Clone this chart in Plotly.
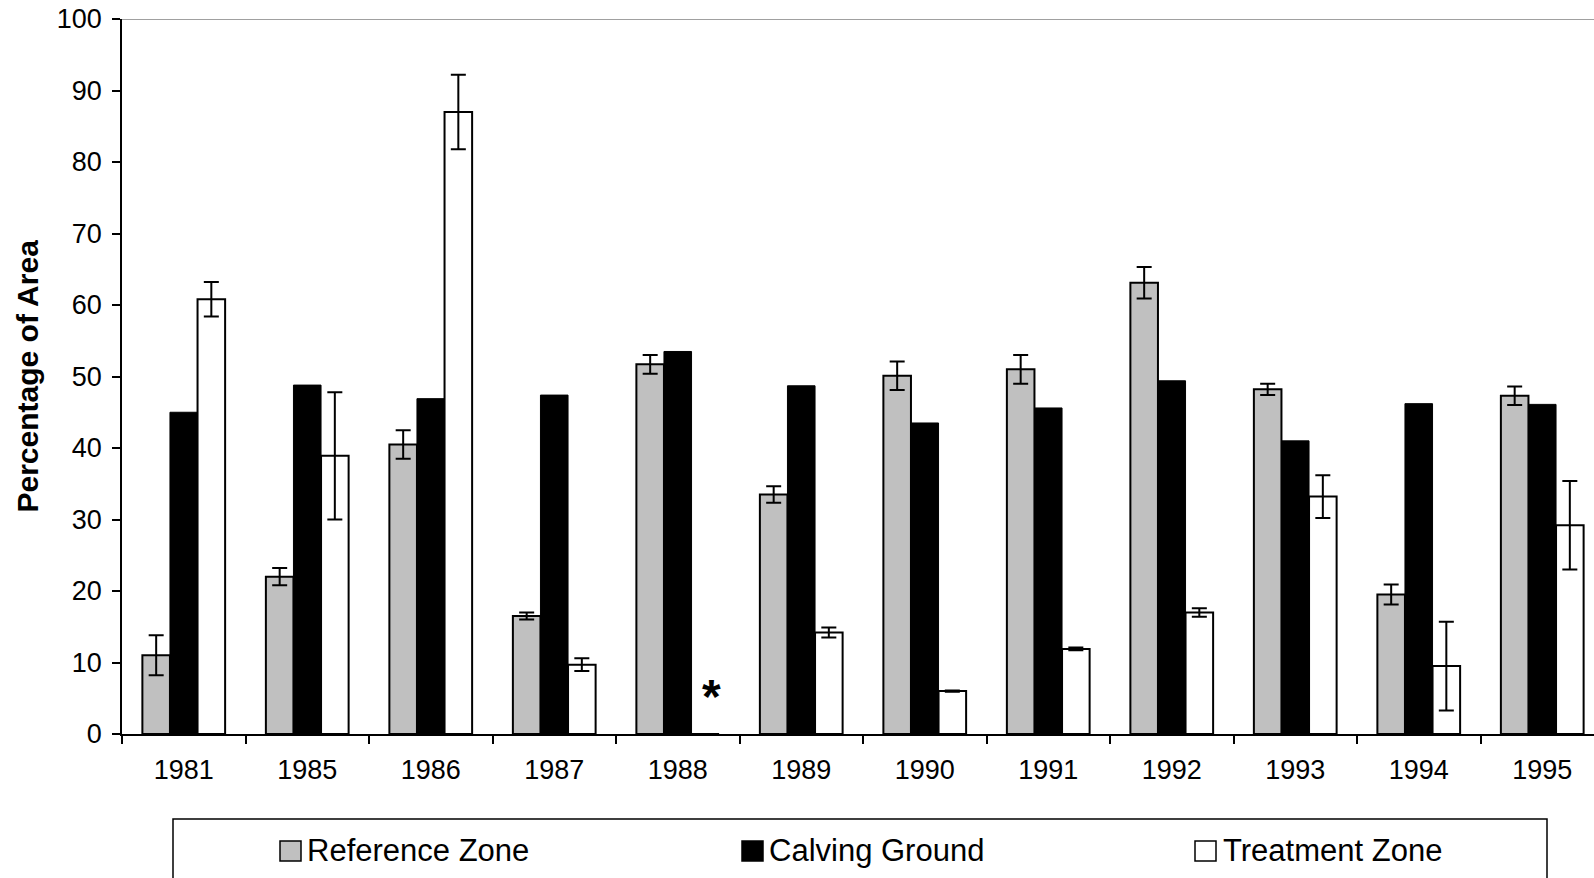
import plotly.graph_objects as go

# Survey years and mean percentage of area per zone
years = ["1981", "1985", "1986", "1987", "1988", "1989",
         "1990", "1991", "1992", "1993", "1994", "1995"]

reference_zone = [11.0, 22.0, 40.5, 16.5, 51.7, 33.5, 50.1, 51.0, 63.1, 48.2, 19.5, 47.3]
reference_err = [2.8, 1.2, 2.0, 0.5, 1.3, 1.15, 2.0, 2.0, 2.2, 0.8, 1.4, 1.3]

calving_ground = [45.0, 48.8, 46.9, 47.4, 53.5, 48.7, 43.5, 45.6, 49.4, 41.0, 46.2, 46.1]

treatment_zone = [60.8, 38.9, 87.0, 9.7, 0.0, 14.2, 6.0, 11.9, 17.0, 33.2, 9.5, 29.2]
treatment_err = [2.4, 8.9, 5.2, 0.9, 0.0, 0.7, 0.1, 0.2, 0.6, 3.0, 6.2, 6.2]

no_data_year = "1988"

series_names = ["Reference Zone", "Calving Ground", "Treatment Zone"]
series_colors = ["#C0C0C0", "#000000", "#FFFFFF"]

FONT = "Liberation Sans, Arial, sans-serif"
W, H = 1594, 878
ML, MR, MT, MB = 122, 0, 19, 144
PW, PH = W - ML - MR, H - MT - MB


def paper_x(px):
    return (px - ML) / PW


def paper_y(py):
    return (H - MB - py) / PH


err_style = dict(type="data", visible=True, color="black", thickness=2, width=7.5)

fig = go.Figure()
fig.add_trace(go.Bar(
    x=years, y=reference_zone, name=series_names[0],
    marker=dict(color=series_colors[0], line=dict(color="black", width=2)),
    error_y=dict(array=reference_err, **err_style),
))
fig.add_trace(go.Bar(
    x=years, y=calving_ground, name=series_names[1],
    marker=dict(color=series_colors[1], line=dict(color="black", width=1)),
))
fig.add_trace(go.Bar(
    x=years, y=treatment_zone, name=series_names[2],
    marker=dict(color=series_colors[2], line=dict(color="black", width=2)),
    error_y=dict(array=treatment_err, **err_style),
))

# Marker for the year with no treatment-zone data
idx = years.index(no_data_year)
fig.add_annotation(
    x=idx, y=treatment_zone[idx], xref="x", yref="y",
    text="<b>*</b>", showarrow=False, xanchor="center", yanchor="middle",
    xshift=34, yshift=38,
    font=dict(family=FONT, size=48, color="black"),
)

# Axis title
fig.add_annotation(
    x=paper_x(27), y=0.5, xref="paper", yref="paper",
    xanchor="center", yanchor="middle",
    text="<b>Percentage of Area</b>", textangle=-90, showarrow=False,
    font=dict(family=FONT, size=30, color="black"),
)

# Top border of the plot area
fig.add_shape(type="line", xref="paper", yref="y", x0=0, x1=1, y0=100, y1=100,
              line=dict(color="#808080", width=1.5))

# Legend box with swatches
shapes = [dict(type="rect", xref="paper", yref="paper",
               x0=paper_x(173), x1=paper_x(1547), y0=paper_y(819), y1=paper_y(905),
               line=dict(color="black", width=1.5), fillcolor="rgba(0,0,0,0)")]
swatch_left = [280, 742, 1195]
text_left = [305, 767, 1221]
for name, color, sx, tx in zip(series_names, series_colors, swatch_left, text_left):
    shapes.append(dict(type="rect", xref="paper", yref="paper",
                       x0=paper_x(sx), x1=paper_x(sx + 21),
                       y0=paper_y(861), y1=paper_y(841),
                       line=dict(color="black", width=1.5), fillcolor=color))
    fig.add_annotation(x=paper_x(tx), y=paper_y(850), xref="paper", yref="paper",
                       text=name, showarrow=False, xanchor="left", yanchor="middle",
                       font=dict(family=FONT, size=31, color="black"))
for s in shapes:
    fig.add_shape(**s)

fig.update_layout(
    width=W, height=H, autosize=False,
    margin=dict(l=ML, r=MR, t=MT, b=MB, pad=0),
    paper_bgcolor="white", plot_bgcolor="white",
    barmode="group", bargap=0.33, bargroupgap=0,
    showlegend=False,
    font=dict(family=FONT, color="black"),
)
fig.update_xaxes(
    type="category", range=[-0.5, -0.5 + PW / 123.5],
    showline=True, linecolor="black", linewidth=1.5,
    ticks="outside", tickson="boundaries", ticklen=8, tickcolor="black", tickwidth=1.5,
    tickfont=dict(family=FONT, size=27, color="black"),
    ticklabelstandoff=11,
    showgrid=False, zeroline=False,
)
fig.update_yaxes(
    range=[0, 100], tickvals=list(range(0, 101, 10)),
    showline=True, linecolor="black", linewidth=1.5,
    ticks="outside", ticklen=8, tickcolor="black", tickwidth=1.5,
    tickfont=dict(family=FONT, size=27, color="black"),
    ticklabelstandoff=5,
    showgrid=False, zeroline=False,
)

fig.write_html("out.html")
